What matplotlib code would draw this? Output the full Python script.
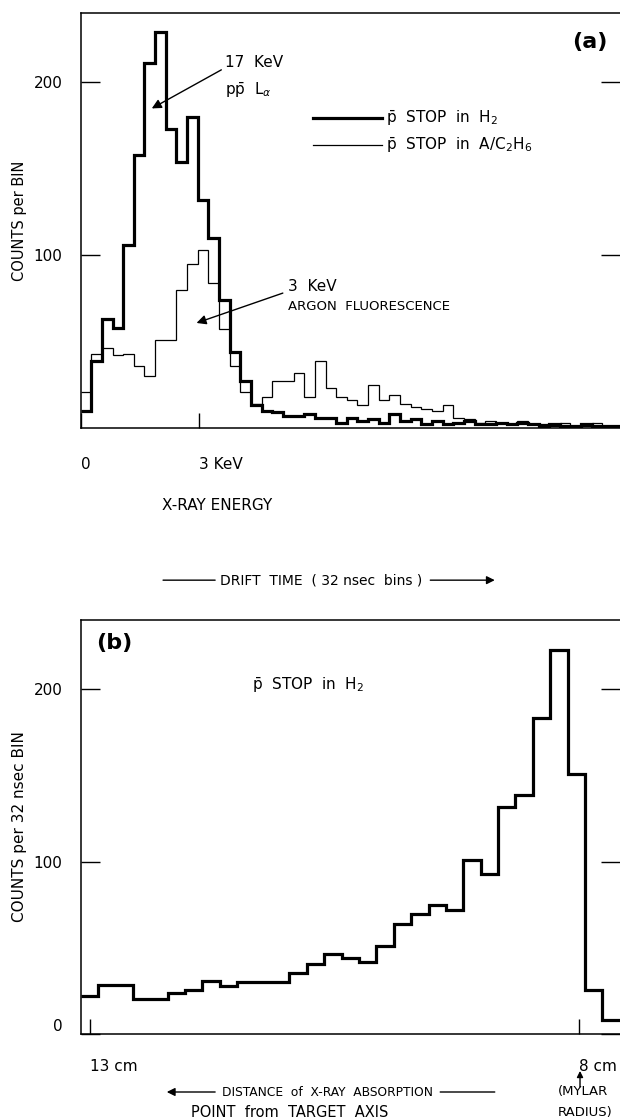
import matplotlib
matplotlib.use("Agg")
import matplotlib.pyplot as plt
import numpy as np

plt.rcParams["font.family"] = ["Liberation Sans Narrow", "DejaVu Sans Condensed", "DejaVu Sans"]
plt.rcParams["mathtext.fontset"] = "dejavusans"

FS = 11

# (a) X-ray energy spectra, counts per bin
kev_per_bin = 0.2708
h2_counts = [10, 39, 63, 58, 106, 158, 211, 229, 173, 154, 180, 132, 110, 74, 44,
             27, 13, 10, 9, 7, 7, 8, 6, 6, 3, 6, 4, 5, 3, 8, 4, 5, 2, 4, 2, 3, 4,
             2, 2, 3, 2, 3, 2, 1, 2, 1, 1, 2, 1, 1, 1]
argon_counts = [21, 43, 46, 42, 43, 36, 30, 51, 51, 80, 95, 103, 84, 57, 36, 21,
                14, 18, 27, 27, 32, 18, 39, 23, 18, 16, 13, 25, 16, 19, 14, 12, 11,
                10, 13, 6, 5, 3, 4, 3, 2, 4, 2, 2, 1, 3, 1, 1, 3, 1, 1]
energy_ticks = [0, 3]
energy_tick_labels = ["0", "3 KeV"]

# (b) drift time spectrum, counts per 32 nsec bin
drift_counts = [22, 28.5, 28.5, 20, 20, 23.5, 25.5, 30.5, 28, 30, 30, 30, 35.5,
                40.5, 46.5, 44, 41.5, 51, 64, 69.5, 74.5, 72, 101, 92.5, 131.5,
                138.5, 183, 222.5, 150.5, 25.5, 8]
drift_ticks = [0.52, 28.66]
drift_tick_labels = ["13 cm", "8 cm"]

fig = plt.figure(figsize=(6.2, 11.2), dpi=100)
ax1 = fig.add_axes([0.130, 0.6179, 0.8698, 0.3705])
ax2 = fig.add_axes([0.130, 0.0768, 0.8698, 0.3696])

# ---- panel (a)
edges_a = np.arange(len(h2_counts) + 1) * kev_per_bin
ar = ax1.stairs(argon_counts, edges_a, baseline=None, color="black", lw=0.9)
h2 = ax1.stairs(h2_counts, edges_a, baseline=None, color="black", lw=2.3)
ax1.set_xlim(0, 50.64 * kev_per_bin)
ax1.set_ylim(0, 240)
ax1.set_xticks(energy_ticks, energy_tick_labels, ha="left")
ax1.set_yticks([100, 200])
ax1.tick_params(axis="y", left=True, right=True, direction="in", length=14,
                width=1, pad=13, labelsize=FS)
ax1.tick_params(axis="x", direction="in", length=11, width=1, pad=21, labelsize=FS)
ax1.set_xlabel("X-RAY ENERGY", fontsize=FS)
ax1.xaxis.set_label_coords(0.2527, -0.170)
ax1.set_ylabel("COUNTS per BIN", fontsize=FS - 0.5, va="center")
ax1.yaxis.set_label_coords(-0.1126, 0.5)

ax1.text(0.944, 0.930, "(a)", transform=ax1.transAxes, ha="center", va="center",
         fontsize=16, fontweight="bold", family="DejaVu Sans")
ax1.text(0.268, 0.881, "17  KeV", transform=ax1.transAxes, va="center", fontsize=FS)
ax1.text(0.268, 0.814, r"p$\bar{\rm p}$  L$_\alpha$", transform=ax1.transAxes,
         va="center", fontsize=FS)
ax1.annotate("", xy=(0.132, 0.770), xytext=(0.261, 0.863), xycoords="axes fraction",
             arrowprops=dict(arrowstyle="-|>", color="black", lw=1,
                             mutation_scale=14, shrinkA=0, shrinkB=0))
ax1.text(0.384, 0.341, "3  KeV", transform=ax1.transAxes, va="center", fontsize=FS)
ax1.text(0.384, 0.292, "ARGON  FLUORESCENCE", transform=ax1.transAxes, va="center",
         fontsize=FS - 1.5)
ax1.annotate("", xy=(0.215, 0.253), xytext=(0.375, 0.325), xycoords="axes fraction",
             arrowprops=dict(arrowstyle="-|>", color="black", lw=1,
                             mutation_scale=14, shrinkA=0, shrinkB=0))
ax1.legend([h2, ar], [r"$\bar{\rm p}$  STOP  in  H$_2$",
                      r"$\bar{\rm p}$  STOP  in  A/C$_2$H$_6$"],
           loc="upper left", bbox_to_anchor=(0.431, 0.768), frameon=False,
           borderpad=0, borderaxespad=0, handlelength=4.5, handletextpad=0.3,
           labelspacing=0.5, fontsize=FS)

# ---- panel (b)
edges_b = np.arange(len(drift_counts) + 1)
ax2.stairs(drift_counts, edges_b, baseline=None, color="black", lw=2.3)
ax2.set_xlim(0, 31.0)
ax2.set_ylim(0, 240)
ax2.set_xticks(drift_ticks, drift_tick_labels, ha="left")
ax2.set_yticks([0, 100, 200])
ax2.tick_params(axis="y", left=True, right=True, direction="in", length=14,
                width=1, pad=13, labelsize=FS)
ax2.tick_params(axis="x", direction="in", length=11, width=1, pad=18, labelsize=FS)
for lbl in ax2.get_yticklabels():
    if lbl.get_text() == "0":
        lbl.set_va("bottom")
ax2.set_ylabel("COUNTS per 32 nsec BIN", fontsize=FS, va="center")
ax2.yaxis.set_label_coords(-0.1126, 0.5)

ax2.text(0.062, 0.944, "(b)", transform=ax2.transAxes, ha="center", va="center",
         fontsize=16, fontweight="bold", family="DejaVu Sans")
ax2.text(0.318, 0.843, r"$\bar{\rm p}$  STOP  in  H$_2$", transform=ax2.transAxes,
         va="center", fontsize=FS)

for a in (ax1, ax2):
    for s in a.spines.values():
        s.set_linewidth(1.1)
    a.spines["right"].set_visible(False)

# ---- figure-level captions with arrow lines
line = dict(arrowstyle="-", color="black", lw=1, shrinkA=0, shrinkB=0)
arrow = dict(arrowstyle="-|>", color="black", lw=1, mutation_scale=12,
             shrinkA=0, shrinkB=0)
ff = "figure fraction"

ax2.annotate("", xy=(0.347, 0.482), xytext=(0.263, 0.482), xycoords=ff,
             annotation_clip=False, arrowprops=line)
fig.text(0.355, 0.482, "DRIFT  TIME  ( 32 nsec  bins )", va="center", fontsize=FS - 1)
ax2.annotate("", xy=(0.798, 0.482), xytext=(0.694, 0.482), xycoords=ff,
             annotation_clip=False, arrowprops=arrow)

ax2.annotate("", xy=(0.269, 0.025), xytext=(0.347, 0.025), xycoords=ff,
             annotation_clip=False, arrowprops=arrow)
fig.text(0.358, 0.025, "DISTANCE  of  X-RAY  ABSORPTION", va="center", fontsize=FS - 2.2)
ax2.annotate("", xy=(0.798, 0.025), xytext=(0.710, 0.025), xycoords=ff,
             annotation_clip=False, arrowprops=line)
fig.text(0.468, 0.0071, "POINT  from  TARGET  AXIS", ha="center", va="center",
         fontsize=FS - 0.5)
fig.text(0.900, 0.025, "(MYLAR", va="center", fontsize=FS - 1.5)
fig.text(0.900, 0.0071, "RADIUS)", va="center", fontsize=FS - 1.5)
ax2.annotate("", xy=(0.9355, 0.0438), xytext=(0.9355, 0.0295), xycoords=ff,
             annotation_clip=False,
             arrowprops=dict(arrowstyle="-|>", color="black", lw=1,
                             mutation_scale=9, shrinkA=0, shrinkB=0))

fig.savefig("out.png", dpi=100)
